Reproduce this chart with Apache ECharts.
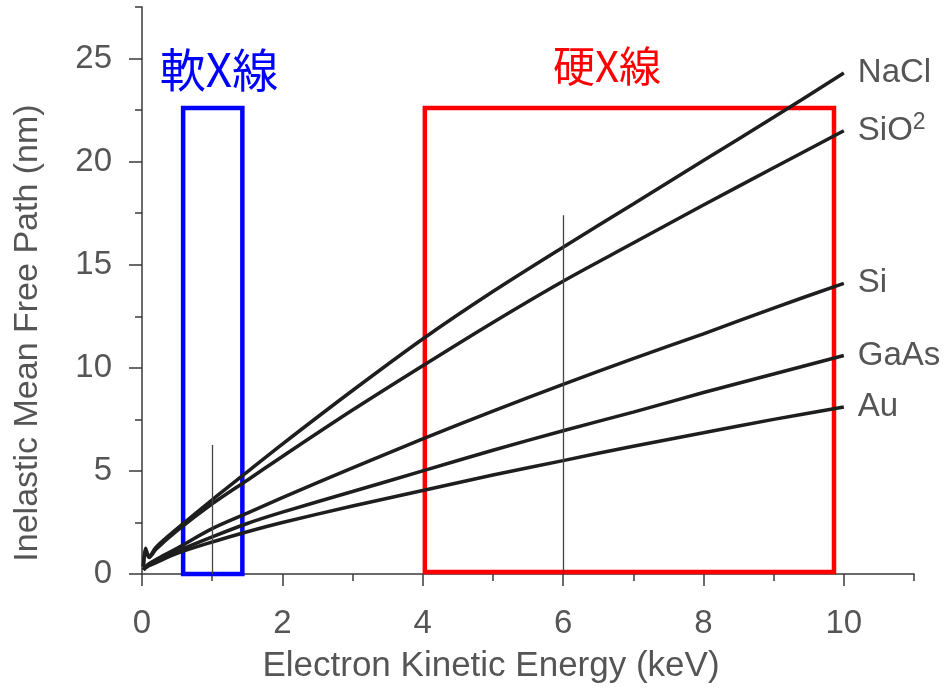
<!DOCTYPE html>
<html>
<head>
<meta charset="utf-8">
<script src="https://cdn.jsdelivr.net/npm/echarts@6/dist/echarts.min.js"></script>
<style>
  html, body { margin: 0; padding: 0; background: #fff; }
  #chart { width: 947px; height: 688px; }
</style>
</head>
<body>
<div id="chart"></div>
<script>
// Electron kinetic energy (keV) sample points shared by all materials
const energy = [0.02, 0.05, 0.1, 0.2, 0.5, 1, 1.5, 2, 3, 4, 5, 6, 7, 8, 9, 10];

// Inelastic mean free path (nm) per material
const nacl = [0.4, 1.25, 0.85, 1.3, 2.2, 3.6, 4.95, 6.3, 8.9, 11.4, 13.7, 15.85, 17.95, 20.05, 22.15, 24.3];
const sio2 = [0.35, 1.15, 0.8, 1.2, 2.1, 3.4, 4.55, 5.7, 7.95, 10.1, 12.2, 14.2, 16.05, 17.9, 19.7, 21.5];
const si   = [0.2, 0.35, 0.5, 0.7, 1.25, 2.2, 2.95, 3.7, 5.15, 6.55, 7.9, 9.2, 10.45, 11.65, 12.9, 14.1];
const gaas = [0.2, 0.3, 0.45, 0.6, 1.1, 1.8, 2.45, 3.0, 4.0, 5.0, 6.0, 6.95, 7.85, 8.8, 9.7, 10.6];
const au   = [0.2, 0.3, 0.4, 0.55, 1.0, 1.55, 2.05, 2.5, 3.3, 4.05, 4.8, 5.5, 6.2, 6.85, 7.5, 8.1];

const materials = [
  { name: 'NaCl', label: 'NaCl', values: nacl },
  { name: 'SiO2', label: 'SiO{sup|2}', values: sio2 },
  { name: 'Si', label: 'Si', values: si },
  { name: 'GaAs', label: 'GaAs', values: gaas },
  { name: 'Au', label: 'Au', values: au }
];

// Axis ticks and labels
const xMajorTicks = [0, 2, 4, 6, 8, 10];
const xMinorTicks = [1, 3, 5, 7, 9, 11];
const yMajorTicks = [0, 5, 10, 15, 20, 25];
const yMinorTicks = [2.5, 7.5, 12.5, 17.5, 22.5, 27.5];

// Energy windows: [E start, E end, IMFP bottom, IMFP top]
const softWindow = [0.586, 1.43, -0.05, 22.6];
const hardWindow = [4.03, 9.86, 0.1, 22.6];

// Vertical guide lines: [energy, height]
const guides = [[1, 6.26], [6, 17.4]];

const FONT = "'Liberation Sans', Arial, sans-serif";
const CJK = "'Noto Sans CJK JP', 'Noto Sans CJK SC', sans-serif";
const AXIS_COLOR = '#3a3a3a';
const TEXT_COLOR = '#555555';

const chart = echarts.init(document.getElementById('chart'));

function xAxisCfg(ticks, len, showLine, showLabel) {
  return {
    type: 'value', min: 0, max: 11, position: 'bottom',
    axisLine: { show: showLine, onZero: false, lineStyle: { color: AXIS_COLOR, width: 1.5 } },
    axisTick: { show: true, customValues: ticks, length: len, lineStyle: { color: AXIS_COLOR, width: 1.5 } },
    axisLabel: showLabel ? {
      show: true, customValues: xMajorTicks, margin: 33, fontSize: 33, color: TEXT_COLOR, fontFamily: FONT
    } : { show: false },
    splitLine: { show: false }
  };
}

function yAxisCfg(ticks, len, showLine, showLabel) {
  return {
    type: 'value', min: 0, max: 27.5, position: 'left',
    axisLine: { show: showLine, onZero: false, lineStyle: { color: AXIS_COLOR, width: 1.5 } },
    axisTick: { show: true, customValues: ticks, length: len, lineStyle: { color: AXIS_COLOR, width: 1.5 } },
    axisLabel: showLabel ? {
      show: true, customValues: yMajorTicks, margin: 30, fontSize: 33, color: TEXT_COLOR, fontFamily: FONT
    } : { show: false },
    splitLine: { show: false }
  };
}

const curveSeries = materials.map(m => ({
  name: m.name,
  type: 'line',
  xAxisIndex: 0, yAxisIndex: 0,
  data: energy.map((e, i) => [e, m.values[i]]),
  smooth: 0.3,
  showSymbol: false,
  symbol: 'none',
  z: 2,
  lineStyle: { color: '#1e1e1e', width: 3.5 },
  endLabel: {
    show: true,
    formatter: m.label,
    distance: 14,
    fontSize: 33,
    fontFamily: FONT,
    color: TEXT_COLOR,
    rich: {
      sup: { fontSize: 23, fontFamily: FONT, color: TEXT_COLOR, verticalAlign: 'bottom', padding: [0, 0, 16, 0] }
    }
  }
}));

const annotationSeries = {
  name: 'windows',
  type: 'line',
  xAxisIndex: 0, yAxisIndex: 0,
  data: [],
  z: 5,
  clip: false,
  markLine: {
    silent: true,
    symbol: 'none',
    label: { show: false },
    lineStyle: { color: '#444', width: 1.3, type: 'solid' },
    data: guides.map(g => [{ coord: [g[0], 0] }, { coord: [g[0], g[1]] }])
  },
  markArea: {
    silent: true,
    label: { show: false },
    data: [
      [
        { coord: [softWindow[0], softWindow[3]], itemStyle: { color: 'rgba(0,0,0,0)', borderColor: '#0000ff', borderWidth: 4.5 } },
        { coord: [softWindow[1], softWindow[2]] }
      ],
      [
        { coord: [hardWindow[0], hardWindow[3]], itemStyle: { color: 'rgba(0,0,0,0)', borderColor: '#ff0000', borderWidth: 4.5 } },
        { coord: [hardWindow[1], hardWindow[2]] }
      ]
    ]
  }
};

chart.setOption({
  animation: false,
  backgroundColor: '#ffffff',
  grid: { left: 142, right: 33, top: 7, bottom: 114, containLabel: false, outerBoundsMode: 'none' },
  xAxis: [
    xAxisCfg(xMajorTicks, 12, true, true),
    xAxisCfg(xMinorTicks, 7, false, false)
  ],
  yAxis: [
    yAxisCfg(yMajorTicks, 13, true, true),
    yAxisCfg(yMinorTicks, 7, false, false)
  ],
  series: curveSeries.concat([annotationSeries]),
  graphic: [
    {
      type: 'text', x: 28, y: 333, rotation: Math.PI / 2,
      style: {
        text: 'Inelastic Mean Free Path (nm)', fontSize: 34, fontFamily: FONT,
        fill: TEXT_COLOR, align: 'center', verticalAlign: 'middle'
      }
    },
    {
      type: 'text', x: 491, y: 666,
      style: {
        text: 'Electron Kinetic Energy (keV)', fontSize: 35, fontFamily: FONT,
        fill: TEXT_COLOR, align: 'center', verticalAlign: 'middle'
      }
    },
    {
      type: 'text', x: 219, y: 70,
      style: {
        text: '軟X線', fontSize: 46, fontFamily: CJK,
        fill: '#0000ff', align: 'center', verticalAlign: 'middle'
      }
    },
    {
      type: 'text', x: 607, y: 66,
      style: {
        text: '硬X線', fontSize: 42, fontFamily: CJK,
        fill: '#ff0000', align: 'center', verticalAlign: 'middle'
      }
    }
  ]
});
</script>
</body>
</html>
